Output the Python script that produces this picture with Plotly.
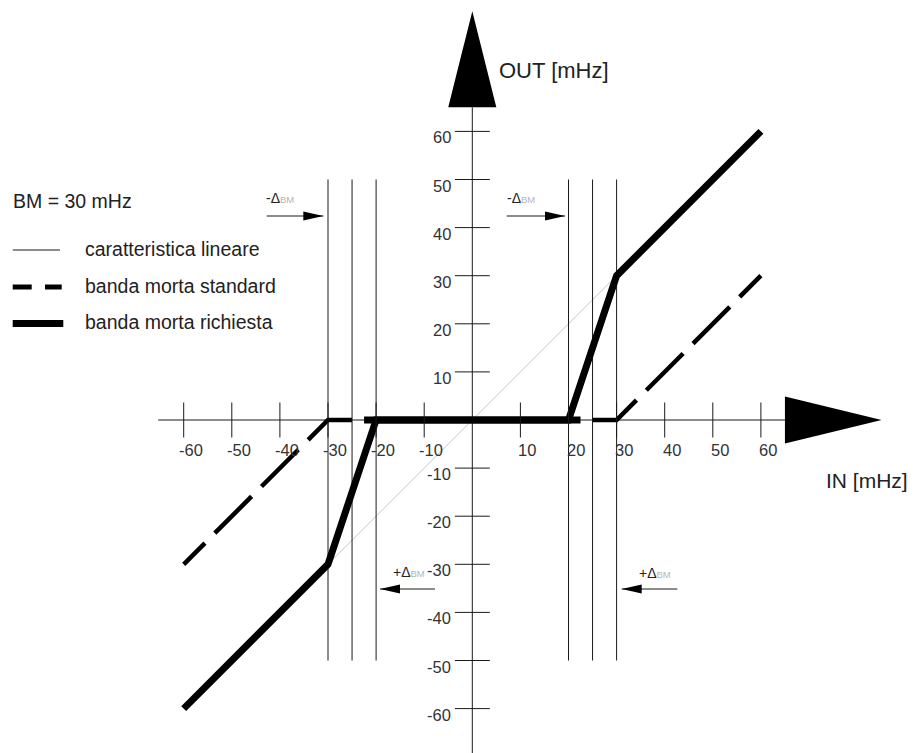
import plotly.graph_objects as go

# ---- characteristic curves, IN -> OUT (mHz) ----
lin_in = [-60, 60]                 # caratteristica lineare
lin_out = [-60, 60]
std_left_in = [-60, -30, 0]        # banda morta standard (two halves, same dash phase)
std_left_out = [-30, 0, 0]
std_right_in = [60, 30, 0]
std_right_out = [30, 0, 0]
req_in = [-60, -30, -20, 20, 30, 60]   # banda morta richiesta
req_out = [-60, -30, 0, 0, 30, 60]
req_flat_in = [-22.5, 22.5]
req_flat_out = [0, 0]

# dead-band limit lines
band_in = [-30, -25, -20, 20, 25, 30]
band_span = [-50, 50]

ticks = [-60, -50, -40, -30, -20, -10, 10, 20, 30, 40, 50, 60]
tick_labels = [str(t) for t in ticks]

legend_labels = ["caratteristica lineare", "banda morta standard", "banda morta richiesta"]
bm_label = "BM = 30 mHz"

# ---- canvas geometry ----
W, H = 917, 753
X0, Y0, S = 472.3, 420.0, 4.81      # origin in px, px per mHz
FONT = "Liberation Sans, Arial, sans-serif"
INK = "#1a1a1a"
TXT = "#333333"


def fx(px):
    return px / W


def fy(py):
    return 1 - py / H


fig = go.Figure()

# linear characteristic (thin grey)
fig.add_trace(go.Scatter(x=lin_in, y=lin_out, mode="lines",
                         line=dict(color="#c4c4c4", width=1), hoverinfo="skip"))

# vertical dead-band lines
vx, vy = [], []
for b in band_in:
    vx += [b, b, None]
    vy += [band_span[0], band_span[1], None]
fig.add_trace(go.Scatter(x=vx, y=vy, mode="lines",
                         line=dict(color=INK, width=1), hoverinfo="skip"))

# axes
fig.add_trace(go.Scatter(x=[-65.3, 65, None, 0, 0], y=[0, 0, None, -70, 65], mode="lines",
                         line=dict(color=INK, width=1), hoverinfo="skip"))

# standard dead band (dashed)
dash = "30px,14px" + ",52px,14px" * 9
for xs, ys in ((std_left_in, std_left_out), (std_right_in, std_right_out)):
    fig.add_trace(go.Scatter(x=xs, y=ys, mode="lines",
                             line=dict(color="black", width=4.5, dash=dash), hoverinfo="skip"))

# required dead band (thick)
fig.add_trace(go.Scatter(x=req_in, y=req_out, mode="lines",
                         line=dict(color="black", width=7), hoverinfo="skip"))
fig.add_trace(go.Scatter(x=req_flat_in, y=req_flat_out, mode="lines",
                         line=dict(color="black", width=7), hoverinfo="skip"))

# tick marks crossing the axes
fig.add_trace(go.Scatter(x=ticks, y=[0] * len(ticks), mode="markers",
                         marker=dict(symbol="line-ns", size=25, line=dict(color=INK, width=1)),
                         hoverinfo="skip"))
fig.add_trace(go.Scatter(x=[0] * len(ticks), y=ticks, mode="markers",
                         marker=dict(symbol="line-ew", size=25, line=dict(color=INK, width=1)),
                         hoverinfo="skip"))

annotations = []
for t, lab in zip(ticks, tick_labels):
    annotations.append(dict(x=t, y=0, xref="x", yref="y", text=lab, showarrow=False,
                            xanchor="center", yanchor="middle", xshift=7, yshift=-30,
                            font=dict(family=FONT, size=16.5, color=TXT)))
    annotations.append(dict(x=0, y=t, xref="x", yref="y", text=lab, showarrow=False,
                            xanchor="right", yanchor="middle", xshift=-19, yshift=-6,
                            font=dict(family=FONT, size=16.5, color=TXT)))

# axis titles
annotations.append(dict(x=fx(497), y=fy(70), xref="paper", yref="paper", text="OUT [mHz]",
                        showarrow=False, xanchor="left", yanchor="middle",
                        font=dict(family=FONT, size=22, color="#222")))
annotations.append(dict(x=fx(824), y=fy(480), xref="paper", yref="paper", text="IN [mHz]",
                        showarrow=False, xanchor="left", yanchor="middle",
                        font=dict(family=FONT, size=21, color="#222")))

# legend block
annotations.append(dict(x=fx(11), y=fy(201), xref="paper", yref="paper", text=bm_label,
                        showarrow=False, xanchor="left", yanchor="middle",
                        font=dict(family=FONT, size=19.5, color="#222")))
for lab, cy in zip(legend_labels, [249, 286, 322]):
    annotations.append(dict(x=fx(83), y=fy(cy), xref="paper", yref="paper", text=lab,
                            showarrow=False, xanchor="left", yanchor="middle",
                            font=dict(family=FONT, size=19.5, color="#222")))

shapes = []
# legend samples
shapes.append(dict(type="line", xref="paper", yref="paper", x0=fx(12.7), x1=fx(60),
                   y0=fy(250), y1=fy(250), line=dict(color=INK, width=1)))
for a, b in ((12.7, 31.7), (45, 61.7)):
    shapes.append(dict(type="line", xref="paper", yref="paper", x0=fx(a), x1=fx(b),
                       y0=fy(287), y1=fy(287), line=dict(color="black", width=5)))
shapes.append(dict(type="line", xref="paper", yref="paper", x0=fx(12.7), x1=fx(63.3),
                   y0=fy(323.5), y1=fy(323.5), line=dict(color="black", width=7)))

# axis arrowheads
shapes.append(dict(type="path", xref="x", yref="y", path="M65,-4.9 L85.1,0 L65,4.9 Z",
                   fillcolor="black", line=dict(width=0)))
shapes.append(dict(type="path", xref="x", yref="y", path="M-5,65 L0,85 L5,65 Z",
                   fillcolor="black", line=dict(width=0)))


def delta_marker(sign, text_left, text_cy, arrow_y, tail, tip):
    annotations.append(dict(
        x=fx(text_left), y=fy(text_cy), xref="paper", yref="paper", showarrow=False,
        xanchor="left", yanchor="middle", borderpad=0,
        text=sign + "Δ<span style='font-size:9.5px;color:#b5b5b5'>BM</span>",
        font=dict(family=FONT, size=14, color="#222")))
    shapes.append(dict(type="line", xref="paper", yref="paper", x0=fx(tail), x1=fx(tip),
                       y0=fy(arrow_y), y1=fy(arrow_y), line=dict(color=INK, width=1.2)))
    back = tip - 20 if tip > tail else tip + 20
    shapes.append(dict(type="path", xref="paper", yref="paper",
                       path=f"M{fx(tip)},{fy(arrow_y)} L{fx(back)},{fy(arrow_y - 4.5)} "
                            f"L{fx(back)},{fy(arrow_y + 4.5)} Z",
                       fillcolor="black", line=dict(width=0)))


delta_marker("-", 265, 198, 216, 266.7, 323.3)
delta_marker("-", 506, 198, 216, 506.7, 565)
delta_marker("+", 392, 572, 589, 435, 380)
delta_marker("+", 638, 573, 589, 677.3, 621.7)

fig.update_layout(
    width=W, height=H,
    margin=dict(l=0, r=0, t=0, b=0),
    paper_bgcolor="white", plot_bgcolor="white",
    showlegend=False,
    xaxis=dict(range=[-X0 / S, (W - X0) / S], visible=False, fixedrange=True),
    yaxis=dict(range=[(Y0 - H) / S, Y0 / S], visible=False, fixedrange=True),
    annotations=annotations,
    shapes=shapes,
)

fig.write_html("out.html")
